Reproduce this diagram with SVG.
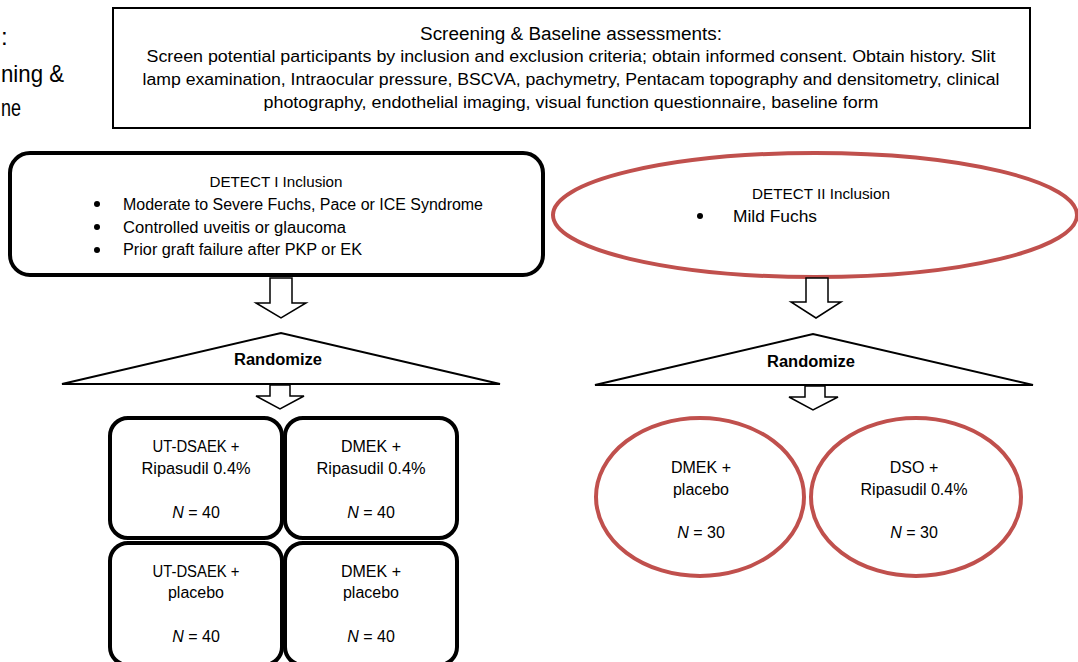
<svg xmlns="http://www.w3.org/2000/svg" width="1078" height="662" viewBox="0 0 1078 662">
<style>
text{font-family:"Liberation Sans","Open Sans",Arial,sans-serif;fill:#000}
.t{font-size:16px}
.s{font-size:15px}
.n{font-size:16px}
.c{text-anchor:middle}
.b{font-weight:bold}
.big{font-size:24px}
.box{fill:#fff;stroke:#000;stroke-width:4}
.red{fill:#fff;stroke:#C0504D;stroke-width:4}
.thin{fill:#fff;stroke:#000;stroke-width:2}
.arr{fill:#fff;stroke:#000;stroke-width:1.5;stroke-linejoin:miter}
</style>
<rect width="1078" height="662" fill="#fff"/>
<g id="side-label">
<text class="big" x="1" y="45">:</text>
<text class="big" x="1" y="82" textLength="63" lengthAdjust="spacingAndGlyphs">ning &amp;</text>
<text class="big" x="1" y="116" textLength="20" lengthAdjust="spacingAndGlyphs">ne</text>
</g>
<g id="screening">
<rect class="thin" x="113" y="8" width="917" height="120"/>
<text class="c" x="571" y="40" font-size="18" textLength="302" lengthAdjust="spacingAndGlyphs">Screening &amp; Baseline assessments:</text>
<text class="c t" x="571" y="62" textLength="849" lengthAdjust="spacingAndGlyphs">Screen potential participants by inclusion and exclusion criteria; obtain informed consent. Obtain history. Slit</text>
<text class="c t" x="571" y="85" textLength="857" lengthAdjust="spacingAndGlyphs">lamp examination, Intraocular pressure, BSCVA, pachymetry, Pentacam topography and densitometry, clinical</text>
<text class="c t" x="571" y="108" textLength="615" lengthAdjust="spacingAndGlyphs">photography, endothelial imaging, visual function questionnaire, baseline form</text>
</g>
<g id="detect1">
<rect class="box" x="10" y="153" width="533" height="122" rx="20"/>
<text class="c s" x="276" y="187" textLength="133" lengthAdjust="spacingAndGlyphs">DETECT I Inclusion</text>
<circle cx="97" cy="204" r="3"/>
<circle cx="97" cy="227" r="3"/>
<circle cx="97" cy="250" r="3"/>
<text class="t" x="123" y="210" textLength="360" lengthAdjust="spacingAndGlyphs">Moderate to Severe Fuchs, Pace or ICE Syndrome</text>
<text class="t" x="123" y="233" textLength="223" lengthAdjust="spacingAndGlyphs">Controlled uveitis or glaucoma</text>
<text class="t" x="123" y="255" textLength="239" lengthAdjust="spacingAndGlyphs">Prior graft failure after PKP or EK</text>
</g>
<g id="detect2">
<ellipse class="red" cx="815" cy="215" rx="262" ry="62"/>
<text class="c s" x="821" y="199" textLength="138" lengthAdjust="spacingAndGlyphs">DETECT II Inclusion</text>
<circle cx="700" cy="216" r="3"/>
<text class="t" x="733" y="222" textLength="84" lengthAdjust="spacingAndGlyphs">Mild Fuchs</text>
</g>
<g id="connectors">
<path class="arr" d="M270,278 L292,278 L292,303 L306,303 L281,318 L256,303 L270,303 Z"/>
<path class="arr" d="M806,278 L828,278 L828,302 L841,302 L816,318 L791,302 L806,302 Z"/>
<path class="arr" d="M270,385 L290,385 L290,396 L304,396 L280,409 L256,396 L270,396 Z"/>
<path class="arr" d="M805,386 L825,386 L825,397 L838,397 L813,410 L789,397 L805,397 Z"/>
</g>
<g id="randomize1">
<path class="thin" d="M62,384 L281,333 L500,384 Z"/>
<text class="c t b" x="278" y="365" textLength="88" lengthAdjust="spacingAndGlyphs">Randomize</text>
</g>
<g id="randomize2">
<path class="thin" d="M595,385 L813,334 L1033,385 Z"/>
<text class="c t b" x="811" y="367" textLength="88" lengthAdjust="spacingAndGlyphs">Randomize</text>
</g>
<g id="arm1">
<rect class="box" x="110" y="418" width="172" height="120" rx="18"/>
<text class="c n" x="196" y="452" textLength="87" lengthAdjust="spacingAndGlyphs">UT-DSAEK +</text>
<text class="c n" x="196" y="474" textLength="109" lengthAdjust="spacingAndGlyphs">Ripasudil 0.4%</text>
<text class="c n" x="196" y="518"><tspan font-style="italic">N</tspan> = 40</text>
</g>
<g id="arm2">
<rect class="box" x="285" y="418" width="172" height="120" rx="18"/>
<text class="c n" x="371" y="452">DMEK +</text>
<text class="c n" x="371" y="474" textLength="109" lengthAdjust="spacingAndGlyphs">Ripasudil 0.4%</text>
<text class="c n" x="371" y="518"><tspan font-style="italic">N</tspan> = 40</text>
</g>
<g id="arm3">
<rect class="box" x="110" y="543" width="172" height="122" rx="18"/>
<text class="c n" x="196" y="577" textLength="87" lengthAdjust="spacingAndGlyphs">UT-DSAEK +</text>
<text class="c n" x="196" y="598">placebo</text>
<text class="c n" x="196" y="642"><tspan font-style="italic">N</tspan> = 40</text>
</g>
<g id="arm4">
<rect class="box" x="285" y="543" width="172" height="122" rx="18"/>
<text class="c n" x="371" y="577">DMEK +</text>
<text class="c n" x="371" y="598">placebo</text>
<text class="c n" x="371" y="642"><tspan font-style="italic">N</tspan> = 40</text>
</g>
<g id="arm5">
<ellipse class="red" cx="700" cy="497" rx="104" ry="79"/>
<text class="c n" x="701" y="473">DMEK +</text>
<text class="c n" x="701" y="495">placebo</text>
<text class="c n" x="701" y="538"><tspan font-style="italic">N</tspan> = 30</text>
</g>
<g id="arm6">
<ellipse class="red" cx="916" cy="497" rx="105" ry="79"/>
<text class="c n" x="914" y="473">DSO +</text>
<text class="c n" x="914" y="495" textLength="107" lengthAdjust="spacingAndGlyphs">Ripasudil 0.4%</text>
<text class="c n" x="914" y="538"><tspan font-style="italic">N</tspan> = 30</text>
</g>
</svg>
